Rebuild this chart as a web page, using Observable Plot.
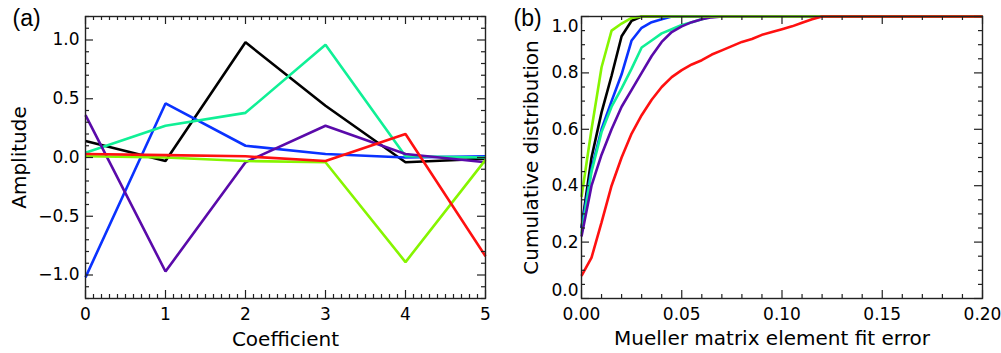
<!DOCTYPE html>
<html><head><meta charset="utf-8">
<script src="https://cdn.jsdelivr.net/npm/d3@7"></script>
<script src="https://cdn.jsdelivr.net/npm/@observablehq/plot@0.6"></script>
<style>
html,body{margin:0;padding:0;background:#fff;}
#wrap{display:flex;width:1001px;height:353px;overflow:hidden;}
#wrap svg{display:block;}
</style></head><body><div id="wrap"></div>
<script>
// ---------- Panel (a) data ----------
const coefficients = [0, 1, 2, 3, 4, 5];
const ampBlack  = [0.14, -0.03, 0.98, 0.44, -0.04, -0.01];
const ampBlue   = [-1.02, 0.46, 0.10, 0.03, 0.00, 0.01];
const ampCyan   = [0.04, 0.27, 0.38, 0.96, 0.01, 0.00];
const ampPurple = [0.36, -0.97, -0.04, 0.27, 0.03, -0.04];
const ampLime   = [0.01, 0.00, -0.03, -0.04, -0.89, -0.02];
const ampRed    = [0.03, 0.02, 0.01, -0.03, 0.20, -0.84];

// ---------- Panel (b) data ----------
const fitError = [0, 0.005, 0.01, 0.015, 0.02, 0.025, 0.03, 0.035, 0.04, 0.045, 0.05, 0.055, 0.06,
                  0.065, 0.07, 0.075, 0.08, 0.085, 0.09, 0.095, 0.10, 0.105, 0.11, 0.115, 0.12, 0.20];
const cdfBlack  = [0.25, 0.50, 0.66, 0.79, 0.93, 0.985, 1, 1, 1, 1, 1, 1, 1, 1, 1, 1, 1, 1, 1, 1, 1, 1, 1, 1, 1, 1];
const cdfBlue   = [0.25, 0.46, 0.60, 0.70, 0.795, 0.915, 0.96, 0.98, 0.99, 1, 1, 1, 1, 1, 1, 1, 1, 1, 1, 1, 1, 1, 1, 1, 1, 1];
const cdfCyan   = [0.23, 0.45, 0.59, 0.68, 0.745, 0.815, 0.89, 0.915, 0.94, 0.955, 0.97, 0.98, 0.99, 1, 1, 1, 1, 1, 1, 1, 1, 1, 1, 1, 1, 1];
const cdfPurple = [0.22, 0.40, 0.51, 0.60, 0.68, 0.74, 0.80, 0.86, 0.91, 0.945, 0.965, 0.98, 0.99, 0.997, 1, 1, 1, 1, 1, 1, 1, 1, 1, 1, 1, 1];
const cdfLime   = [0.36, 0.60, 0.82, 0.95, 0.975, 0.995, 1, 1, 1, 1, 1, 1, 1, 1, 1, 1, 1, 1, 1, 1, 1, 1, 1, 1, 1, 1];
const cdfRed    = [0.08, 0.145, 0.27, 0.40, 0.50, 0.585, 0.65, 0.705, 0.75, 0.785, 0.81, 0.83, 0.845, 0.865, 0.88,
                   0.895, 0.91, 0.92, 0.935, 0.945, 0.955, 0.965, 0.978, 0.99, 1, 1];

// ---------- Ticks ----------
const aXMajor = [0, 1, 2, 3, 4, 5];
const aYMajor = [-1.0, -0.5, 0.0, 0.5, 1.0];
const bXMajor = [0, 0.05, 0.10, 0.15, 0.20];
const bYMajor = [0, 0.2, 0.4, 0.6, 0.8, 1.0];

const seriesNames  = ["black", "blue", "cyan", "purple", "lime", "red"];
const seriesColors = ["#000000", "#0a32ff", "#10f096", "#5a0aaa", "#86f500", "#ff1010"];

const ampSeries = [ampBlack, ampBlue, ampCyan, ampPurple, ampLime, ampRed];
const cdfSeries = [cdfBlack, cdfBlue, cdfCyan, cdfPurple, cdfLime, cdfRed];

function longTable(xs, ys) {
  const rows = [];
  ys.forEach((arr, s) => arr.forEach((v, i) => rows.push({series: seriesNames[s], x: xs[i], y: v})));
  return rows;
}
function range(a, b, step) {
  const out = []; const n = Math.round((b - a) / step);
  for (let i = 0; i <= n; i++) out.push(+(a + i * step).toFixed(6));
  return out;
}
function minusFmt(s) { return s.replace("-", "\u2212"); }

const H = 353, MT = 16, MB = 55;
const FH = H - MT - MB;
const TICKC = "#222";

function panel(o) {
  const FW = o.width - o.marginLeft - o.marginRight;
  const xMinor = range(o.xDomain[0], o.xDomain[1], o.xMinorStep).filter(v => !o.xMajor.some(m => Math.abs(m - v) < 1e-9));
  const yMinor = range(o.yDomain[0], o.yDomain[1], o.yMinorStep).filter(v => !o.yMajor.some(m => Math.abs(m - v) < 1e-9));
  const yLabelsMid = o.yMajor.filter(v => !(o.yShiftEnds && (v === o.yDomain[0] || v === o.yDomain[1])));
  const marks = [
    ...seriesNames.map((name, s) => Plot.line(o.data.filter(d => d.series === name), {
      x: "x", y: "y", stroke: seriesColors[s], strokeWidth: 2.6, strokeLinejoin: "miter", strokeLinecap: "butt"
    })),
    Plot.frame({stroke: TICKC, strokeWidth: 1.4}),
    Plot.ruleX(o.xMajor, {x: d => d, insetTop: FH - 8, stroke: TICKC, strokeWidth: 1.2}),
    Plot.ruleX(o.xMajor, {x: d => d, insetBottom: FH - 8, stroke: TICKC, strokeWidth: 1.2}),
    Plot.ruleX(xMinor, {x: d => d, insetTop: FH - 4, stroke: TICKC, strokeWidth: 1.2}),
    Plot.ruleX(xMinor, {x: d => d, insetBottom: FH - 4, stroke: TICKC, strokeWidth: 1.2}),
    Plot.ruleY(o.yMajor, {y: d => d, insetRight: FW - 8, stroke: TICKC, strokeWidth: 1.2}),
    Plot.ruleY(o.yMajor, {y: d => d, insetLeft: FW - 8, stroke: TICKC, strokeWidth: 1.2}),
    Plot.ruleY(yMinor, {y: d => d, insetRight: FW - 4, stroke: TICKC, strokeWidth: 1.2}),
    Plot.ruleY(yMinor, {y: d => d, insetLeft: FW - 4, stroke: TICKC, strokeWidth: 1.2}),
    Plot.text(o.xMajor, {x: d => d, text: o.xFmt, frameAnchor: "bottom", lineAnchor: "top", dy: 9, fill: "#000"}),
    Plot.text(yLabelsMid, {y: d => d, text: o.yFmt, frameAnchor: "left", textAnchor: "end", dx: -o.yPad, fill: "#000"}),
    Plot.text([o.xTitle], {text: d => d, frameAnchor: "bottom", lineAnchor: "bottom", textAnchor: "middle",
      dy: o.xTitleDy, dx: o.xTitleDx, fontSize: 20, fill: "#000"}),
    Plot.text([o.yTitle], {text: d => d, frameAnchor: "left", textAnchor: "middle", rotate: -90, dx: o.yTitleDx,
      fontSize: 20, fill: "#000"}),
    Plot.text([o.tag], {text: d => d, frameAnchor: "top-left", textAnchor: "start", lineAnchor: "bottom",
      dx: o.tagDx, dy: 9, fontSize: 23, fontFamily: "Liberation Sans", fill: "#000"})
  ];
  if (o.yShiftEnds) {
    marks.push(Plot.text([o.yDomain[1]], {y: d => d, text: o.yFmt, frameAnchor: "left", textAnchor: "end", dx: -o.yPad, dy: 10, fill: "#000"}));
    marks.push(Plot.text([o.yDomain[0]], {y: d => d, text: o.yFmt, frameAnchor: "left", textAnchor: "end", dx: -o.yPad, dy: -8, fill: "#000"}));
  }
  return Plot.plot({
    width: o.width, height: H,
    marginLeft: o.marginLeft, marginRight: o.marginRight, marginTop: MT, marginBottom: MB,
    x: {domain: o.xDomain, axis: null},
    y: {domain: o.yDomain, axis: null},
    style: {fontFamily: "DejaVu Sans", fontSize: "17px", background: "#fff", overflow: "visible"},
    marks
  });
}

const wrap = document.getElementById("wrap");
wrap.append(panel({
  width: 500, marginLeft: 85, marginRight: 15,
  xDomain: [0, 5], yDomain: [-1.2, 1.2], xMinorStep: 0.1, yMinorStep: 0.1,
  xMajor: aXMajor, yMajor: aYMajor,
  xFmt: d => String(d), yFmt: d => minusFmt(d.toFixed(1)), yPad: 6,
  data: longTable(coefficients, ampSeries),
  xTitle: "Coefficient", xTitleDy: 47, xTitleDx: 0,
  yTitle: "Amplitude", yTitleDx: -66,
  tag: "(a)", tagDx: -73
}));
wrap.append(panel({
  width: 501, marginLeft: 81, marginRight: 19,
  xDomain: [0, 0.2], yDomain: [0, 1.0], xMinorStep: 0.01, yMinorStep: 0.05,
  xMajor: bXMajor, yMajor: bYMajor, yShiftEnds: true,
  xFmt: d => d.toFixed(2), yFmt: d => d.toFixed(1), yPad: 3,
  data: longTable(fitError, cdfSeries),
  xTitle: "Mueller matrix element fit error", xTitleDy: 46, xTitleDx: -10,
  yTitle: "Cumulative distribution", yTitleDx: -50,
  tag: "(b)", tagDx: -68
}));
</script></body></html>
